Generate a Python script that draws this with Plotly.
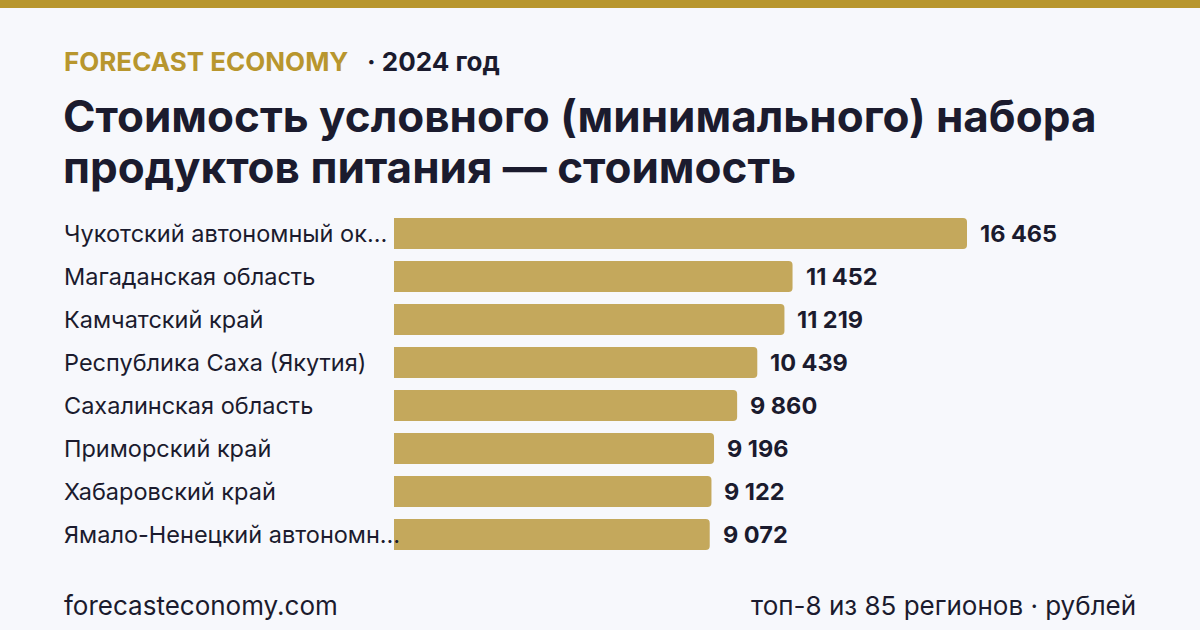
import plotly.graph_objects as go

regions = [
    "Чукотский автономный ок…",
    "Магаданская область",
    "Камчатский край",
    "Республика Саха (Якутия)",
    "Сахалинская область",
    "Приморский край",
    "Хабаровский край",
    "Ямало-Ненецкий автономн…",
]
values = [16465, 11452, 11219, 10439, 9860, 9196, 9122, 9072]
value_labels = ["16 465", "11 452", "11 219", "10 439", "9 860", "9 196", "9 122", "9 072"]

brand = "FORECAST ECONOMY"
year_text = "· 2024 год"
title_lines = ["Стоимость условного (минимального) набора", "продуктов питания — стоимость"]
footer_left = "forecasteconomy.com"
footer_right = "топ-8 из 85 регионов · рублей"

BG = "#f7f8fc"
BAR = "#c4a85c"
GOLD = "#b8962e"
DARK = "#1b1b2e"
FONT = "Inter"

W, H = 1200, 630
L, R, T, B = 394, 0, 212, 74
xmax = max(values) * (W - L - R) / 573.0

fig = go.Figure()
fig.add_trace(go.Bar(
    x=values, y=regions, orientation="h",
    marker=dict(color=BAR, line=dict(width=0)),
    width=0.72, hoverinfo="skip",
))

fig.update_layout(
    width=W, height=H,
    paper_bgcolor=BG, plot_bgcolor=BG,
    margin=dict(l=L, r=R, t=T, b=B),
    showlegend=False,
    barcornerradius=4,
    xaxis=dict(range=[0, xmax], visible=False, fixedrange=True),
    yaxis=dict(autorange="reversed", visible=False, fixedrange=True),
)

def px_x(px):
    return (px - L) / (W - L - R)

def px_y(py):
    return (H - B - py) / (H - T - B)

anns = []
for r in regions:
    anns.append(dict(
        x=px_x(62), xref="paper", y=r, yref="y", text=r, showarrow=False,
        xanchor="left", yanchor="middle",
        font=dict(family=FONT, size=23.5, color=DARK),
    ))
for r, v, t in zip(regions, values, value_labels):
    anns.append(dict(
        x=v, xref="x", y=r, yref="y", text=t, showarrow=False,
        xanchor="left", yanchor="middle", xshift=11,
        font=dict(family=FONT, size=23.5, color=DARK, weight=700),
    ))
anns.append(dict(x=px_x(62), y=px_y(61), xref="paper", yref="paper", text=brand,
                 showarrow=False, xanchor="left", yanchor="middle",
                 font=dict(family=FONT, size=26, color=GOLD, weight=700)))
anns.append(dict(x=px_x(365), y=px_y(61), xref="paper", yref="paper", text=year_text,
                 showarrow=False, xanchor="left", yanchor="middle",
                 font=dict(family=FONT, size=26, color=DARK, weight=700)))
anns.append(dict(x=px_x(61), y=px_y(116), xref="paper", yref="paper", text=title_lines[0],
                 showarrow=False, xanchor="left", yanchor="middle",
                 font=dict(family=FONT, size=44, color=DARK, weight=700)))
anns.append(dict(x=px_x(61), y=px_y(167), xref="paper", yref="paper", text=title_lines[1],
                 showarrow=False, xanchor="left", yanchor="middle",
                 font=dict(family=FONT, size=44, color=DARK, weight=700)))
anns.append(dict(x=px_x(62), y=px_y(605), xref="paper", yref="paper", text=footer_left,
                 showarrow=False, xanchor="left", yanchor="middle",
                 font=dict(family=FONT, size=26, color=DARK)))
anns.append(dict(x=px_x(1138), y=px_y(605), xref="paper", yref="paper", text=footer_right,
                 showarrow=False, xanchor="right", yanchor="middle",
                 font=dict(family=FONT, size=26, color=DARK)))
fig.update_layout(annotations=anns)

fig.add_shape(type="rect", xref="paper", yref="paper",
              x0=px_x(0), x1=px_x(W), y0=px_y(0), y1=px_y(8),
              fillcolor=GOLD, line=dict(width=0), layer="above")

fig.write_html("out.html")
